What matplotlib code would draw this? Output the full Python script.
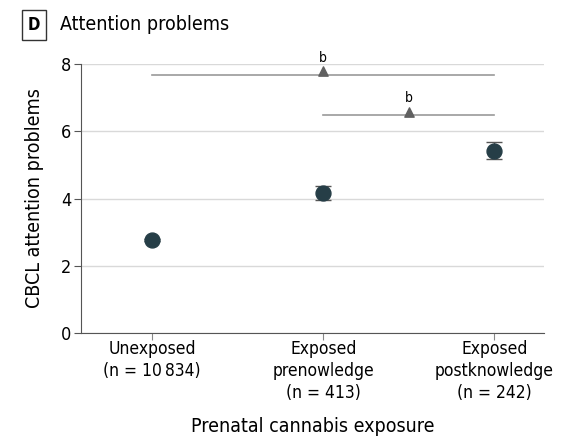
import matplotlib.pyplot as plt

plt.rcParams['font.family'] = ['DejaVu Sans']
plt.rcParams['font.stretch'] = 'condensed'

groups = ["Unexposed\n(n = 10\u2009834)", "Exposed\nprenowledge\n(n = 413)", "Exposed\npostknowledge\n(n = 242)"]
means = [2.77, 4.17, 5.41]
lower = [2.74, 3.97, 5.16]
upper = [2.80, 4.37, 5.67]

# significance brackets: (start, end, triangle position, height)
brackets = [(0, 2, 1, 7.68), (1, 2, 1.5, 6.48)]
bracket_labels = ["b", "b"]

fig = plt.figure(figsize=(5.82, 4.42), dpi=100)
ax = fig.add_axes([81 / 582, 1 - 333 / 442, 463 / 582, 269 / 442])

x = list(range(len(groups)))
yerr = [[m - lo for m, lo in zip(means, lower)], [hi - m for m, hi in zip(means, upper)]]
ax.errorbar(x, means, yerr=yerr, fmt='none', ecolor='#555555', elinewidth=1,
            capsize=5.8, capthick=1, zorder=3)
ax.scatter(x, means, s=115, color='#263e47', zorder=4)

for (x0, x1, xt, h), lab in zip(brackets, bracket_labels):
    ax.plot([x0, x1], [h, h], color='#9a9a9a', lw=1.2, zorder=2)
    ax.scatter([xt], [h + 0.1], marker='^', s=45, color='#606060', zorder=3)
    ax.text(xt, h + 0.3, lab, ha='center', va='bottom', fontsize=10)

ax.set_xlim(-0.415, 2.29)
ax.set_ylim(0, 8)
ax.set_yticks([0, 2, 4, 6, 8])
ax.set_xticks(x)
ax.set_xticklabels(groups, fontsize=12.5, linespacing=1.28)
ax.tick_params(axis='y', labelsize=13, length=5, color='#555555', pad=2)
ax.tick_params(axis='x', length=5, color='#888888', pad=0)
ax.grid(axis='y', color='#d9d9d9', lw=1)
ax.set_axisbelow(True)
for side in ['top', 'right']:
    ax.spines[side].set_visible(False)
ax.spines['left'].set_color('#555555')
ax.spines['bottom'].set_color('#555555')

ax.set_ylabel("CBCL attention problems", fontsize=14, labelpad=12)
ax.set_xlabel("Prenatal cannabis exposure", fontsize=14, labelpad=11)

fig.text(34 / 582, 1 - 25 / 442, "D", fontsize=12, fontweight='bold', ha='center', va='center',
         bbox=dict(boxstyle='square,pad=0.35', fc='white', ec='#333333', lw=1))
fig.text(60 / 582, 1 - 25 / 442, "Attention problems", fontsize=14, ha='left', va='center')

fig.savefig("out.png", dpi=100)
